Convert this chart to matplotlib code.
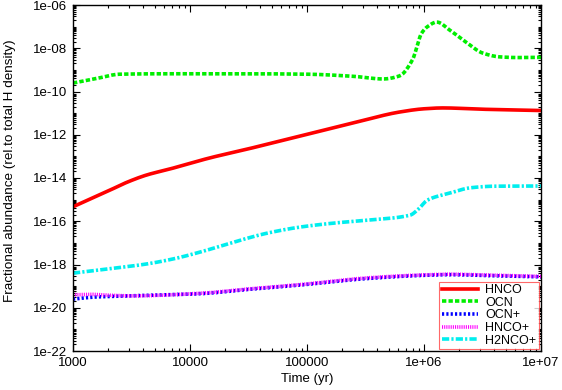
import numpy as np
import matplotlib
matplotlib.use("Agg")
import matplotlib.pyplot as plt
from matplotlib.ticker import FixedLocator, FuncFormatter, LogLocator, NullFormatter

plt.rcParams['font.family'] = ['Liberation Sans', 'DejaVu Sans']

# log10(time) and log10(abundance)
hnco_t = [3.0, 3.15, 3.32, 3.46, 3.63, 3.83, 4.17, 4.5, 4.94, 5.4, 5.79, 6.0, 6.16, 6.5, 7.0]
hnco_y = [-15.33, -14.96, -14.55, -14.2, -13.86, -13.58, -13.07, -12.65, -12.06, -11.45, -10.95, -10.8, -10.76, -10.82, -10.88]

ocn_t = [3.0, 3.2, 3.4, 3.8, 4.5, 5.0, 5.4, 5.65, 5.79, 5.9, 5.98, 6.03, 6.11, 6.22, 6.37, 6.5, 6.65, 6.8, 7.0]
ocn_y = [-9.61, -9.4, -9.2, -9.18, -9.18, -9.2, -9.3, -9.42, -9.28, -8.55, -7.3, -7.0, -6.79, -7.16, -7.76, -8.22, -8.4, -8.43, -8.42]

ocnp_t = [3.0, 3.2, 3.5, 4.09, 4.5, 4.94, 5.51, 6.0, 6.22, 6.6, 7.0]
ocnp_y = [-19.6, -19.5, -19.45, -19.35, -19.15, -18.95, -18.65, -18.5, -18.47, -18.52, -18.57]

hncop_t = [3.0, 3.15, 3.3, 3.5, 4.09, 4.5, 4.94, 5.51, 6.0, 6.22, 6.6, 7.0]
hncop_y = [-19.4, -19.38, -19.42, -19.45, -19.33, -19.13, -18.93, -18.62, -18.48, -18.45, -18.5, -18.55]

h2ncop_t = [3.0, 3.3, 3.6, 3.85, 4.09, 4.37, 4.66, 4.94, 5.22, 5.51, 5.88, 5.95, 6.03, 6.22, 6.4, 6.6, 7.0]
h2ncop_y = [-18.4, -18.2, -18.0, -17.75, -17.42, -16.97, -16.55, -16.27, -16.09, -15.95, -15.72, -15.45, -15.02, -14.7, -14.45, -14.38, -14.37]

xticks = [1e3, 1e4, 1e5, 1e6, 1e7]
xticklabels = ['1000', '10000', '100000', '1e+06', '1e+07']
yticks = [1e-22, 1e-20, 1e-18, 1e-16, 1e-14, 1e-12, 1e-10, 1e-08, 1e-06]
yticklabels = ['1e-22', '1e-20', '1e-18', '1e-16', '1e-14', '1e-12', '1e-10', '1e-08', '1e-06']


def pchip(t, y, n=600):
    t = np.asarray(t, float)
    y = np.asarray(y, float)
    h = np.diff(t)
    d = np.diff(y) / h
    m = np.zeros_like(y)
    for i in range(1, len(y) - 1):
        if d[i - 1] * d[i] > 0:
            w1 = 2 * h[i] + h[i - 1]
            w2 = h[i] + 2 * h[i - 1]
            m[i] = (w1 + w2) / (w1 / d[i - 1] + w2 / d[i])
    m[0] = d[0]
    m[-1] = d[-1]
    tt = np.linspace(t[0], t[-1], n)
    idx = np.clip(np.searchsorted(t, tt) - 1, 0, len(t) - 2)
    s = (tt - t[idx]) / h[idx]
    h00 = 2 * s**3 - 3 * s**2 + 1
    h10 = s**3 - 2 * s**2 + s
    h01 = -2 * s**3 + 3 * s**2
    h11 = s**3 - s**2
    yy = h00 * y[idx] + h10 * h[idx] * m[idx] + h01 * y[idx + 1] + h11 * h[idx] * m[idx + 1]
    return 10 ** tt, 10 ** yy


fig = plt.figure(figsize=(5.62, 3.9), dpi=100)
ax = fig.add_axes([73 / 562, 1 - 351 / 390, (541 - 73) / 562, (351 - 5) / 390])

series = [
    ('HNCO', hnco_t, hnco_y, dict(color='#ff0000', lw=2.6, ls='-')),
    ('OCN', ocn_t, ocn_y, dict(color='#00ee00', lw=2.6, ls=(0, (1.2, 0.6)))),
    ('OCN+', ocnp_t, ocnp_y, dict(color='#0000ff', lw=2.6, ls=(0, (0.6, 0.6)))),
    ('HNCO+', hncop_t, hncop_y, dict(color='#ff00ff', lw=2.6, ls=(0, (0.3, 0.3)))),
    ('H2NCO+', h2ncop_t, h2ncop_y, dict(color='#00eeee', lw=2.6, ls=(0, (2.0, 0.6, 0.6, 0.6)))),
]
for name, t, y, st in series:
    x, yy = pchip(t, y)
    ax.plot(x, yy, label=name, **st)

ax.set_xscale('log')
ax.set_yscale('log')
ax.set_xlim(1e3, 1e7)
ax.set_ylim(1e-22, 1e-6)
ax.xaxis.set_major_locator(FixedLocator(xticks))
ax.xaxis.set_major_formatter(FuncFormatter(lambda v, p: xticklabels[min(range(len(xticks)), key=lambda i: abs(np.log10(xticks[i]) - np.log10(v)))]))
ax.yaxis.set_major_locator(FixedLocator(yticks))
ax.yaxis.set_major_formatter(FuncFormatter(lambda v, p: yticklabels[min(range(len(yticks)), key=lambda i: abs(np.log10(yticks[i]) - np.log10(v)))]))
ax.xaxis.set_minor_locator(LogLocator(base=10, subs=np.arange(2, 10), numticks=100))
ax.yaxis.set_minor_locator(LogLocator(base=10, subs=np.arange(1, 10), numticks=100))
ax.xaxis.set_minor_formatter(NullFormatter())
ax.yaxis.set_minor_formatter(NullFormatter())
ax.tick_params(which='both', direction='in', top=True, right=True, labelsize=9.5, width=0.8)
ax.tick_params(which='major', length=5, pad=4)
ax.tick_params(which='minor', length=2.5)
for s in ax.spines.values():
    s.set_linewidth(1.0)

ax.set_xlabel('Time (yr)', fontsize=9.5, labelpad=3)
ax.set_ylabel('Fractional abundance (rel.to total H density)', fontsize=9.7, labelpad=11)
ax.yaxis.set_label_coords(-0.122, 0.52)

leg = ax.legend(loc='lower right', fontsize=9.0, frameon=True, fancybox=False,
                handlelength=2.9, handletextpad=0.6, borderpad=0.2, labelspacing=0.05,
                borderaxespad=0.15)
leg.get_frame().set_edgecolor('#ff4444')
leg.get_frame().set_linewidth(0.8)

fig.savefig('out.png', dpi=100)
